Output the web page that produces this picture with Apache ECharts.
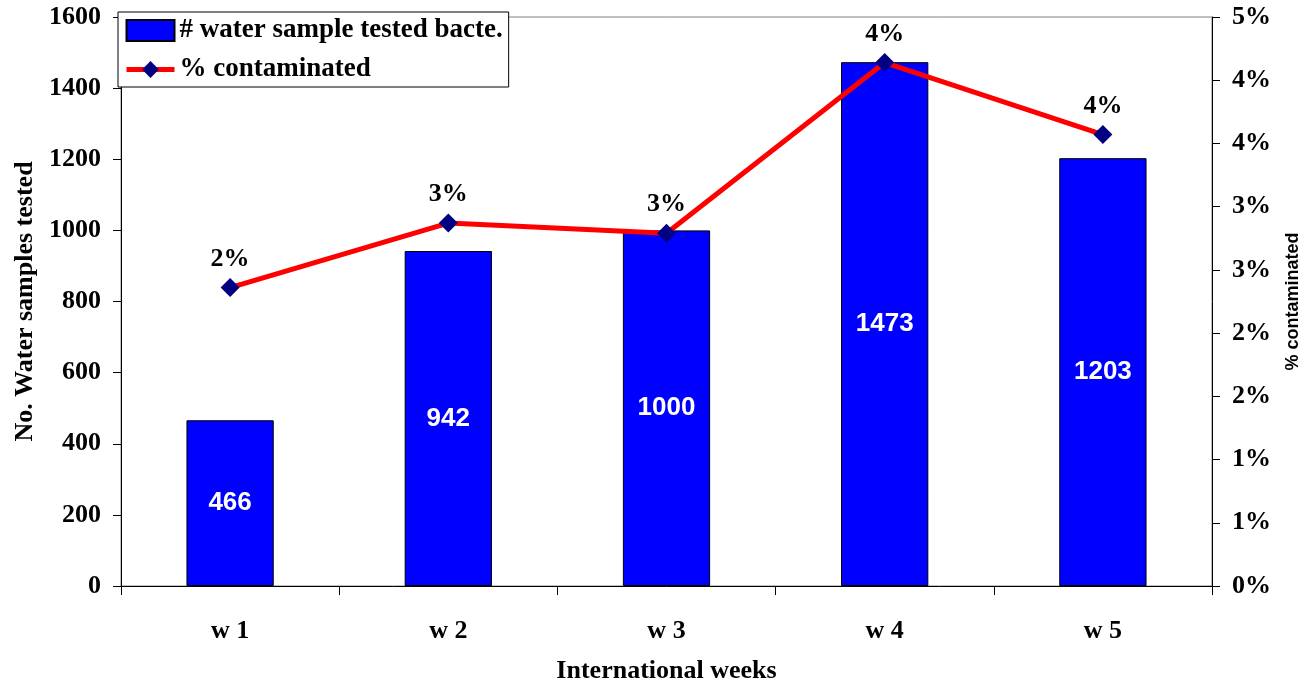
<!DOCTYPE html>
<html>
<head>
<meta charset="utf-8">
<title>Water samples tested and % contaminated</title>
<script src="https://cdn.jsdelivr.net/npm/echarts@6/dist/echarts.min.js"></script>
<style>
  html, body { margin: 0; padding: 0; background: #ffffff; }
  #chart { width: 1308px; height: 684px; }
</style>
</head>
<body>
<div id="chart"></div>
<script>
// Weekly data
const weeks = ['w 1', 'w 2', 'w 3', 'w 4', 'w 5'];
const samplesTested = [466, 942, 1000, 1473, 1203];
const pctContaminated = [2.36, 2.87, 2.79, 4.14, 3.57];

const SERIF = '"Liberation Serif", "Times New Roman", serif';
const SANS = '"Liberation Sans", Arial, sans-serif';

const chart = echarts.init(document.getElementById('chart'), null, { renderer: 'canvas' });

chart.setOption({
  animation: false,
  backgroundColor: '#ffffff',
  grid: {
    left: 121, right: 96, top: 17, bottom: 98,
    outerBoundsMode: 'none',
    containLabel: false,
    show: true, borderColor: '#808080', borderWidth: 1, backgroundColor: 'transparent'
  },
  legend: {
    left: 118, top: 12,
    orient: 'vertical',
    backgroundColor: '#ffffff',
    borderColor: '#000000', borderWidth: 1, borderRadius: 0,
    padding: [5, 6, 4, 6],
    itemWidth: 48, itemHeight: 21, itemGap: 12,
    textStyle: { fontFamily: SERIF, fontWeight: 'bold', fontSize: 27, color: '#000000' },
    data: [
      { name: '# water sample tested bacte.', icon: 'rect' },
      { name: '% contaminated', lineStyle: { color: '#ff0000', width: 5 }, itemStyle: { color: '#000080' } }
    ]
  },
  xAxis: {
    type: 'category',
    data: weeks,
    name: 'International weeks',
    nameLocation: 'middle',
    nameGap: 72,
    nameTextStyle: { fontFamily: SERIF, fontWeight: 'bold', fontSize: 26, color: '#000000' },
    axisLine: { lineStyle: { color: '#000000', width: 1 } },
    axisTick: { show: true, alignWithLabel: false, length: 9, lineStyle: { color: '#000000' } },
    axisLabel: { margin: 32, fontFamily: SERIF, fontWeight: 'bold', fontSize: 26, color: '#000000' },
    splitLine: { show: false }
  },
  yAxis: [
    {
      type: 'value',
      min: 0, max: 1600, interval: 200,
      name: 'No. Water samples tested',
      nameLocation: 'middle',
      nameGap: 82,
      nameRotate: 90,
      nameTextStyle: { fontFamily: SERIF, fontWeight: 'bold', fontSize: 26, color: '#000000' },
      axisLine: { show: true, lineStyle: { color: '#000000', width: 1 } },
      axisTick: { show: true, length: 8, lineStyle: { color: '#000000' } },
      axisLabel: {
        margin: 20, fontFamily: SERIF, fontWeight: 'bold', fontSize: 26, color: '#000000',
        formatter: v => String(v)
      },
      splitLine: { show: false }
    },
    {
      type: 'value',
      position: 'right',
      min: 0, max: 4.5, interval: 0.5,
      name: '% contaminated',
      nameLocation: 'middle',
      nameGap: 72,
      nameRotate: 90,
      nameTextStyle: { fontFamily: SANS, fontWeight: 'bold', fontSize: 18, color: '#000000' },
      axisLine: { show: true, lineStyle: { color: '#000000', width: 1 } },
      axisTick: { show: true, length: 8, lineStyle: { color: '#000000' } },
      axisLabel: {
        margin: 20, fontFamily: SERIF, fontWeight: 'bold', fontSize: 26, color: '#000000',
        formatter: v => Math.round(v) + '%'
      },
      splitLine: { show: false }
    }
  ],
  series: [
    {
      name: '# water sample tested bacte.',
      type: 'bar',
      yAxisIndex: 0,
      data: samplesTested,
      barWidth: '40%',
      itemStyle: { color: '#0000ff', borderColor: '#000000', borderWidth: 1 },
      label: {
        show: true, position: 'inside',
        fontFamily: SANS, fontWeight: 'bold', fontSize: 26, color: '#ffffff'
      },
      z: 2
    },
    {
      name: '% contaminated',
      type: 'line',
      yAxisIndex: 1,
      data: pctContaminated,
      symbol: 'diamond',
      symbolSize: 19,
      lineStyle: { color: '#ff0000', width: 5 },
      itemStyle: { color: '#000080' },
      label: {
        show: true, position: 'top', distance: 6,
        fontFamily: SERIF, fontWeight: 'bold', fontSize: 26, color: '#000000',
        formatter: p => Math.round(p.value) + '%'
      },
      z: 3
    }
  ]
});
</script>
</body>
</html>
